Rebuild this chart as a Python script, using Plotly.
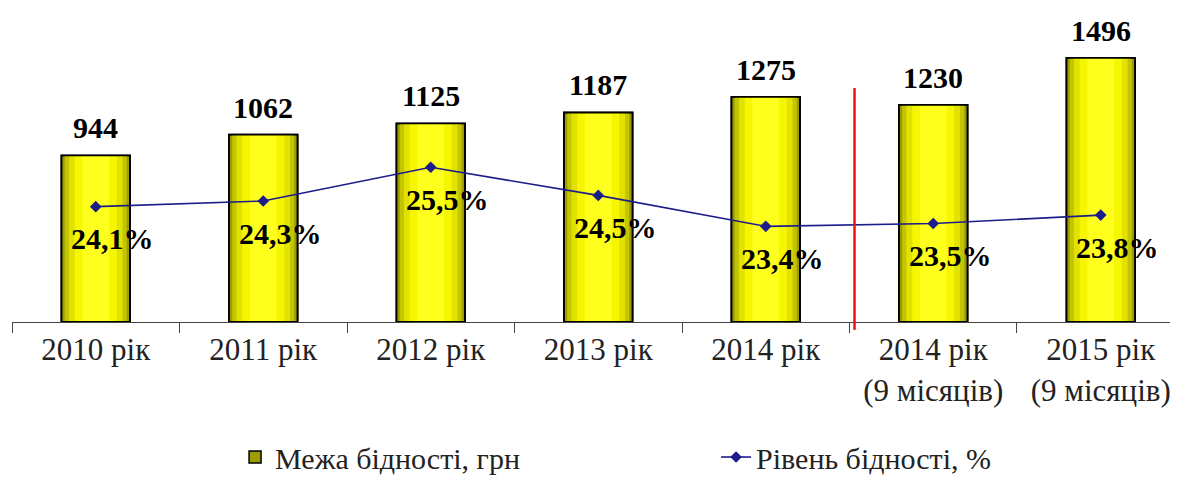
import plotly.graph_objects as go

# ---------------------------------------------------------------------------
# Дані
# ---------------------------------------------------------------------------

periods = ["2010 рік", "2011 рік", "2012 рік", "2013 рік", "2014 рік",
           "2014 рік<br>(9 місяців)", "2015 рік<br>(9 місяців)"]
poverty_line = [944, 1062, 1125, 1187, 1275, 1230, 1496]      # грн
poverty_rate = [24.1, 24.3, 25.5, 24.5, 23.4, 23.5, 23.8]     # %

FONT = "Liberation Serif, Times New Roman, DejaVu Serif, serif"

# cylinder look: layered bars, outer dark -> inner bright
bands = [
    (0.41, "#9d9d00"),
    (0.37, "#c4c400"),
    (0.32, "#e2e200"),
    (0.25, "#f6f600"),
    (0.16, "#ffff1e"),
]

fig = go.Figure()

for i, (w, c) in enumerate(bands):
    fig.add_trace(go.Bar(
        x=periods, y=poverty_line,
        width=w,
        marker=dict(color=c, line=dict(color="black", width=1.5 if i == 0 else 0)),
        name="Межа бідності, грн",
        showlegend=(i == 0),
        hoverinfo="skip" if i else None,
    ))

# outline on top of all bands
fig.add_trace(go.Bar(
    x=periods, y=poverty_line,
    width=0.41,
    marker=dict(color="rgba(0,0,0,0)", line=dict(color="black", width=1.8)),
    showlegend=False,
    hoverinfo="skip",
))

fig.add_trace(go.Scatter(
    x=periods, y=poverty_rate,
    yaxis="y2",
    mode="lines+markers",
    name="Рівень бідності, %",
    line=dict(color="#1c1c8a", width=1.6),
    marker=dict(symbol="diamond", size=9, color="#1c1c8a"),
))

# bar value labels
for p, v in zip(periods, poverty_line):
    fig.add_annotation(
        x=p, y=v, yref="y", text=f"<b>{v}</b>",
        showarrow=False, yanchor="bottom", yshift=9,
        font=dict(family=FONT, size=30, color="black"),
    )

# percent labels
for p, v in zip(periods, poverty_rate):
    fig.add_annotation(
        x=p, y=v, yref="y2", text="<b>" + f"{v:.1f}".replace(".", ",") + "%</b>",
        showarrow=False, xshift=17, yshift=-32,
        font=dict(family=FONT, size=30, color="black"),
    )

# separator between yearly and 9-month data
fig.add_shape(
    type="line", xref="x", yref="paper",
    x0=4.53, x1=4.53, y0=-0.025, y1=0.745,
    line=dict(color="#ee1111", width=2.5),
)

# page body has an 8px margin, so the layout is offset to compensate
fig.update_layout(
    width=1178, height=478,
    paper_bgcolor="white", plot_bgcolor="white",
    barmode="overlay",
    margin=dict(l=4, r=0, t=0, b=164, autoexpand=False),
    font=dict(family=FONT, color="#222"),
    xaxis=dict(
        type="category",
        range=[-0.5, 6.509],
        tickson="boundaries",
        ticks="outside", ticklen=10, tickcolor="#444",
        showline=True, linecolor="#444", linewidth=1.2,
        showgrid=False,
        tickfont=dict(family=FONT, size=31, color="#222"),
    ),
    xaxis2=dict(
        overlaying="x", anchor="y", side="bottom",
        range=[-0.5, 6.509],
        tickvals=[-0.5, 0.5, 1.5, 2.5, 3.5, 4.5, 5.5],
        ticks="inside", ticklen=9, tickcolor="#444",
        showticklabels=False, showgrid=False, zeroline=False, showline=False,
    ),
    yaxis=dict(range=[0, 1779], visible=False),
    yaxis2=dict(range=[20, 31.16], overlaying="y", side="right", visible=False),
    legend=dict(
        orientation="h",
        x=0.19, xanchor="left",
        y=-0.43, yanchor="middle",
        entrywidth=436,
        font=dict(family=FONT, size=30, color="#222"),
    ),
)

fig.write_html("out.html")
